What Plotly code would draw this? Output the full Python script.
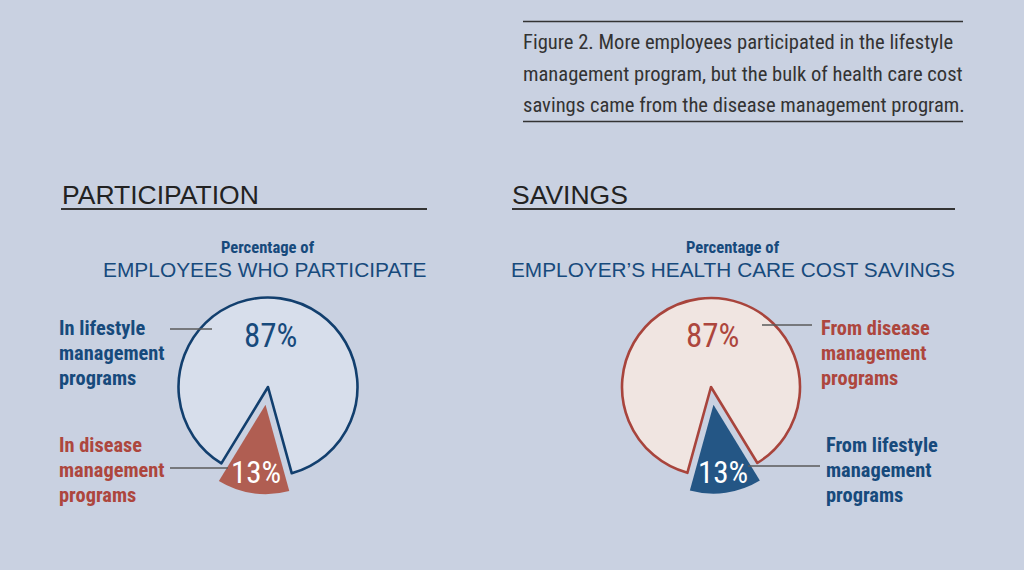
import plotly.graph_objects as go

# ---------------- data ----------------
part_labels = ["In lifestyle management programs", "In disease management programs"]
part_values = [87, 13]
save_labels = ["From disease management programs", "From lifestyle management programs"]
save_values = [87, 13]

caption_lines = [
    "Figure 2. More employees participated in the lifestyle",
    "management program, but the bulk of health care cost",
    "savings came from the disease management program.",
]

# ---------------- style ----------------
W, H = 1024, 570
BG = "#c9d1e1"
NAVY = "#123f6e"
NAVY_TXT = "#174a7c"
RED_TXT = "#ad463d"
RED_LINE = "#a8443c"
LIGHT_BLUE = "#d7deeb"
LIGHT_PINK = "#f0e5e1"
RED_WEDGE = "#b05e52"
BLUE_WEDGE = "#245685"
GREY = "#5a5a5a"
COND = "Roboto Condensed, Roboto, Liberation Sans, sans-serif"
WIDE = "Liberation Sans, Arial, sans-serif"
PULL = 0.2


def px(x):
    return x / W


def py(y):
    return 1 - y / H


def domain(cx, cy, r):
    half = r * (1 + PULL)
    return dict(x=[px(cx - half), px(cx + half)], y=[py(cy + half), py(cy - half)])


def rotation_for(values, bisector):
    total = sum(values)
    small = values[1] / total * 360
    big = values[0] / total * 360
    return bisector - small / 2 - big


fig = go.Figure()

fig.add_trace(go.Pie(
    labels=part_labels, values=part_values, sort=False, direction="clockwise",
    rotation=rotation_for(part_values, 188), pull=[0, PULL],
    marker=dict(colors=[LIGHT_BLUE, RED_WEDGE],
                line=dict(color=[NAVY, "rgba(0,0,0,0)"], width=[2.6, 0])),
    textinfo="none", hoverinfo="label+percent", showlegend=False,
    domain=domain(268, 387, 89.5),
))

fig.add_trace(go.Pie(
    labels=save_labels, values=save_values, sort=False, direction="clockwise",
    rotation=rotation_for(save_values, 172), pull=[0, PULL],
    marker=dict(colors=[LIGHT_PINK, BLUE_WEDGE],
                line=dict(color=[RED_LINE, "rgba(0,0,0,0)"], width=[2.6, 0])),
    textinfo="none", hoverinfo="label+percent", showlegend=False,
    domain=domain(711, 387, 89),
))

ann = []
shapes = []


def text(x, y, s, size, color, family=COND, anchor="left", weight=None):
    f = dict(size=size, color=color, family=family)
    if weight:
        f["weight"] = weight
    ann.append(dict(x=px(x), y=py(y), xref="paper", yref="paper", text=s,
                    showarrow=False, xanchor=anchor, yanchor="middle", font=f))


def hline(x0, x1, y, color, width):
    shapes.append(dict(type="line", xref="paper", yref="paper",
                       x0=px(x0), x1=px(x1), y0=py(y), y1=py(y),
                       line=dict(color=color, width=width)))


# caption box
hline(523, 963, 21.5, "#333333", 1.6)
hline(523, 963, 121.5, "#333333", 1.6)
for i, line in enumerate(caption_lines):
    text(521, 42 + i * 31.5, line, 20.6, "#333333")

# section headings
text(60, 195, "PARTICIPATION", 26.5, "#222222", family=WIDE)
text(510, 195, "SAVINGS", 26.5, "#222222", family=WIDE)
hline(61, 427, 209, "#333333", 2.2)
hline(512, 955, 209, "#333333", 2.2)

# subtitles
text(268, 247, "Percentage of", 16.6, NAVY_TXT, anchor="center", weight="bold")
text(265, 270, "EMPLOYEES WHO PARTICIPATE", 20.9, NAVY_TXT, family=WIDE, anchor="center")
text(733, 247, "Percentage of", 16.6, NAVY_TXT, anchor="center", weight="bold")
text(733, 270, "EMPLOYER\u2019S HEALTH CARE COST SAVINGS", 20.8, NAVY_TXT, family=WIDE, anchor="center")

# percentages
text(270, 335, f"{part_values[0]}%", 33, NAVY_TXT, anchor="center")
text(256, 472, f"{part_values[1]}%", 31, "white", anchor="center")
text(712, 335, f"{save_values[0]}%", 33, RED_TXT, anchor="center")
text(723, 472, f"{save_values[1]}%", 31, "white", anchor="center")


def multiline(x, y0, label, color):
    words = label.split(" ")
    lines = [" ".join(words[:-2]), words[-2], words[-1]]
    for i, l in enumerate(lines):
        text(x, y0 + i * 25, l, 20.4, color, weight="bold")


multiline(57, 328, part_labels[0], NAVY_TXT)
multiline(57, 445, part_labels[1], RED_TXT)
multiline(819, 328, save_labels[0], RED_TXT)
multiline(824, 445, save_labels[1], NAVY_TXT)

# leader lines
hline(170, 212, 329, GREY, 1.4)
hline(170, 228, 468, GREY, 1.4)
hline(762, 812, 325, GREY, 1.4)
hline(748, 820, 466, GREY, 1.4)

fig.update_layout(
    width=W, height=H, margin=dict(l=0, r=0, t=0, b=0),
    paper_bgcolor=BG, plot_bgcolor=BG,
    annotations=ann, shapes=shapes, showlegend=False,
)

fig.write_html("out.html")
